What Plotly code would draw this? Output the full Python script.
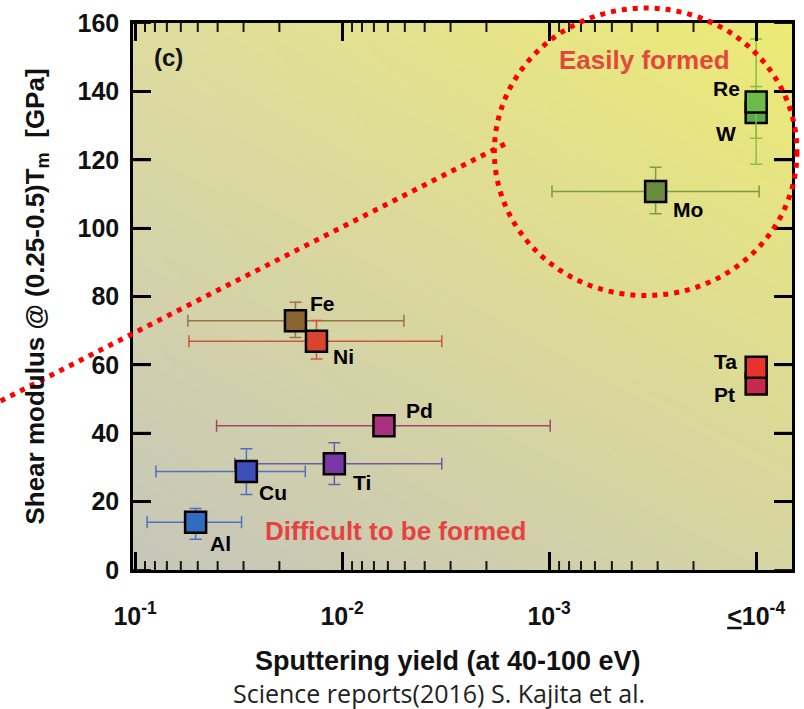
import base64
import struct
import zlib

import numpy as np
import plotly.graph_objects as go

# ---------------- data ----------------
elements = ["Ti", "Cu", "Al", "Pd", "Fe", "Ni", "Mo", "W", "Re", "Pt", "Ta"]
sputter_yield = [0.0109, 0.0290, 0.0510, 0.00628, 0.0168, 0.0133, 0.000306, 0.0001, 0.0001, 0.0001, 0.0001]
yield_low = [0.0033, 0.01506, 0.0306, 0.000988, 0.00503, 0.0033, 0.0000968, None, None, None, None]
yield_high = [0.033, 0.0793, 0.0875, 0.0404, 0.0556, 0.0549, 0.000969, None, None, None, None]
shear_mod = [31.1, 28.8, 14.0, 42.2, 72.9, 66.9, 110.7, 133.8, 136.9, 54.4, 59.3]
shear_low = [25.0, 22.1, 9.0, None, 68.0, 61.7, 104.2, 126.3, 118.7, None, None]
shear_high = [37.2, 35.5, 18.0, None, 78.3, 73.0, 117.8, 141.4, 155.3, None, None]
fill_colors = ["#7a35a6", "#3d4fb8", "#2f6cbf", "#a8307c", "#8b6430", "#d9442e",
               "#6b8a3c", "#5aa850", "#6cbb48", "#c8284c", "#e8332c"]
err_colors = ["#7a56a6", "#5570c0", "#4a72c4", "#a0486c", "#9a7444", "#d0553f",
              "#7c9a42", "#8cbc44", "#8cbc44", "#c8284c", "#e8332c"]
label_shift = [(28, -19), (27, -21), (25, -21), (36, 15), (27, 17), (27, -15),
               (32, -18), (-30, -21), (-30, 13), (-32, -10), (-31, 6)]

x_tickvals = [1e-1, 1e-2, 1e-3, 1e-4]
x_ticktext = ["10<sup>-1</sup>", "10<sup>-2</sup>", "10<sup>-3</sup>", "<u>&lt;</u>10<sup>-4</sup>"]
x_minor_vals = [k * 10.0 ** e for e in (-2, -3, -4) for k in range(2, 10)]
y_tickvals = [0, 20, 40, 60, 80, 100, 120, 140, 160]

# background corner colours: bottom-left, bottom-right, top-left, top-right
bg_corners = {"bl": (198, 198, 186), "br": (214, 212, 162), "tl": (222, 220, 158), "tr": (237, 235, 116)}

# ---------------- layout geometry ----------------
W, H = 804, 709
L, R, T, B = 133, 795, 20, 570
x_range_log = [-0.99, -4.173]
y_range = [0, 160]
MAJOR_LEN, MINOR_LEN = 18, 9


def px(xp):
    return (xp - L) / (R - L)


def py(yp):
    return (B - yp) / (B - T)


def xfrac(v):
    return (np.log10(v) - x_range_log[0]) / (x_range_log[1] - x_range_log[0])


def yfrac(v):
    return (v - y_range[0]) / (y_range[1] - y_range[0])


def plot_background_png(c):
    """Gradient panel background at plot-area pixel size, with the inside tick marks of the frame."""
    w, h = R - L, B - T
    s = np.linspace(0, 1, w)[None, :, None]
    t = np.linspace(0, 1, h)[:, None, None]
    tl, tr, bl, br = (np.array(c[k], float) for k in ("tl", "tr", "bl", "br"))
    img = (tl * (1 - s) + tr * s) * (1 - t) + (bl * (1 - s) + br * s) * t
    img = np.clip(np.round(img), 0, 255).astype(np.uint8)

    def vtick(v, length, half):
        f = xfrac(v)
        if not (0 < f < 1):
            return
        cx = f * w
        c0, c1 = max(int(round(cx - half)), 0), min(int(round(cx + half)), w)
        img[:length, c0:c1] = 20
        img[h - length:, c0:c1] = 20

    def htick(v, length, half):
        cy = (1 - yfrac(v)) * h
        r0, r1 = max(int(round(cy - half)), 0), min(int(round(cy + half)), h)
        img[r0:r1, :length] = 20
        img[r0:r1, w - length:] = 20

    for v in x_tickvals:
        vtick(v, MAJOR_LEN, 1.25)
    for v in x_minor_vals:
        vtick(v, MINOR_LEN, 1.0)
    for v in y_tickvals:
        htick(v, MAJOR_LEN, 1.25)

    raw = b"".join(b"\x00" + img[j].tobytes() for j in range(h))

    def chunk(tag, data):
        return struct.pack(">I", len(data)) + tag + data + struct.pack(">I", zlib.crc32(tag + data) & 0xFFFFFFFF)

    png = (b"\x89PNG\r\n\x1a\n" + chunk(b"IHDR", struct.pack(">IIBBBBB", w, h, 8, 2, 0, 0, 0))
           + chunk(b"IDAT", zlib.compress(raw, 9)) + chunk(b"IEND", b""))
    return "data:image/png;base64," + base64.b64encode(png).decode()


FONT = "Liberation Sans, Arial, sans-serif"

fig = go.Figure()

for i, el in enumerate(elements):
    x = sputter_yield[i]
    y = shear_mod[i]
    ex = None
    ey = None
    if yield_low[i] is not None:
        ex = dict(type="data", symmetric=False,
                  array=[yield_high[i] - x], arrayminus=[x - yield_low[i]],
                  color=err_colors[i], thickness=1.5, width=6)
    if shear_low[i] is not None:
        ey = dict(type="data", symmetric=False,
                  array=[shear_high[i] - y], arrayminus=[y - shear_low[i]],
                  color=err_colors[i], thickness=1.5, width=6)
    fig.add_trace(go.Scatter(
        x=[x], y=[y], mode="markers", name=el,
        marker=dict(symbol="square", size=21, color=fill_colors[i],
                    line=dict(color="black", width=2.5)),
        error_x=ex, error_y=ey, showlegend=False,
    ))
    fig.add_annotation(x=np.log10(x), y=y, xref="x", yref="y", text=el, showarrow=False,
                       xshift=label_shift[i][0], yshift=label_shift[i][1],
                       xanchor="center", yanchor="middle",
                       font=dict(family=FONT, size=21, color="black", weight="bold"))

# gradient panel background (with frame tick marks)
fig.add_layout_image(source=plot_background_png(bg_corners), xref="paper", yref="paper",
                     x=0, y=1, sizex=1, sizey=1, xanchor="left", yanchor="top",
                     sizing="stretch", layer="below")


def paper_text(xp, yp, text, size, color, bold=True, family=FONT):
    fig.add_annotation(x=px(xp), y=py(yp), xref="paper", yref="paper", text=text, showarrow=False,
                       xanchor="center", yanchor="middle",
                       font=dict(family=family, size=size, color=color, weight="bold" if bold else "normal"))


paper_text(169, 55, "(c)", 24, "#111")
paper_text(647, 57, "Easily formed", 26, "rgb(226,72,62)")
paper_text(397, 531, "Difficult to be formed", 26, "rgb(230,66,66)")
paper_text(449, 661, "Sputtering yield (at 40-100 eV)", 27, "#111")
paper_text(440, 694, "Science reports(2016) S. Kajita et al.", 25, "#222", bold=False,
           family="Open Sans, Noto Sans, sans-serif")

# red dotted circle and line
fig.add_shape(type="circle", xref="paper", yref="paper",
              x0=px(496), x1=px(800), y0=py(5), y1=py(294),
              line=dict(color="#ff0000", width=5, dash="5px,6px"), layer="above")
fig.add_shape(type="line", xref="paper", yref="paper",
              x0=px(0), y0=py(400), x1=px(510), y1=py(140),
              line=dict(color="#ff0000", width=5, dash="5px,6px"), layer="above")

fig.update_layout(
    width=W, height=H,
    margin=dict(l=L, r=W - R, t=T, b=H - B),
    paper_bgcolor="white", plot_bgcolor="rgb(218,217,156)",
    showlegend=False,
    xaxis=dict(type="log", range=x_range_log, tickmode="array", tickvals=x_tickvals, ticktext=x_ticktext,
               ticks="inside", ticklen=MAJOR_LEN, tickwidth=2.5, tickcolor="black",
               showline=True, linecolor="black", linewidth=2.5, mirror="ticks",
               showgrid=False, zeroline=False, ticklabelstandoff=22,
               tickfont=dict(family=FONT, size=25, color="#111", weight="bold")),
    yaxis=dict(range=y_range, tickmode="array", tickvals=y_tickvals,
               ticks="inside", ticklen=MAJOR_LEN, tickwidth=2.5, tickcolor="black",
               showline=True, linecolor="black", linewidth=2.5, mirror="ticks",
               showgrid=False, zeroline=False, ticklabelstandoff=6,
               title=dict(text="Shear modulus @ (0.25-0.5)T<sub>m</sub>  [GPa]", standoff=26,
                          font=dict(family=FONT, size=26, color="#111", weight="bold")),
               tickfont=dict(family=FONT, size=25, color="#111", weight="bold")),
)

fig.write_html("out.html")
